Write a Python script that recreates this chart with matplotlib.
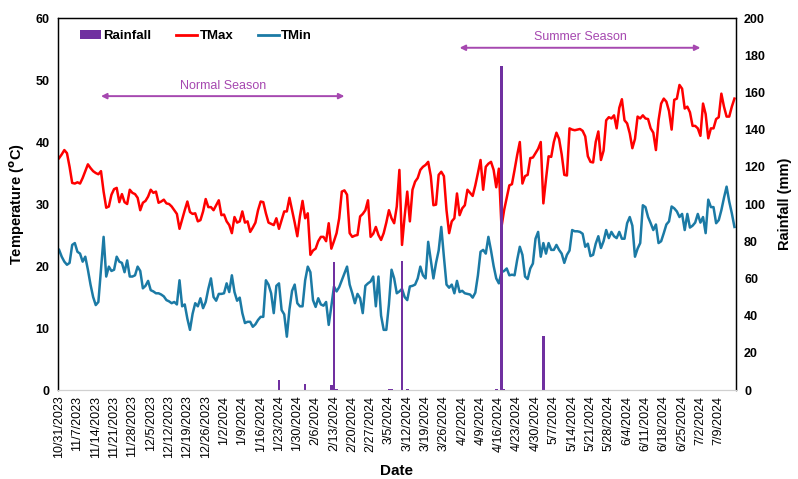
import numpy as np
import pandas as pd
import matplotlib
matplotlib.use("Agg")
import matplotlib.pyplot as plt
from matplotlib.patches import Patch
from matplotlib.lines import Line2D

plt.rcParams['font.family'] = ['Liberation Sans', 'DejaVu Sans']

start_date = "2023-10-31"

# daily max temperature (C)
tmax = [37.4, 38.0, 38.7, 38.2, 36.0, 33.4, 33.3, 33.5, 33.3, 34.2,
        35.3, 36.4, 35.8, 35.3, 35.0, 34.8, 35.3, 32.0, 29.4, 29.6,
        31.5, 32.4, 32.6, 30.3, 31.6, 30.3, 30.0, 32.3, 31.8, 31.6,
        31.0, 29.0, 30.2, 30.5, 31.2, 32.3, 31.8, 32.0, 30.2, 30.4,
        30.7, 30.1, 30.0, 29.6, 29.0, 28.4, 26.0, 27.5, 29.0, 30.4,
        28.7, 28.4, 28.5, 27.2, 27.4, 28.8, 30.8, 29.5, 29.5, 29.0,
        29.8, 30.6, 28.2, 28.3, 27.2, 26.6, 25.3, 27.9, 27.0, 27.2,
        28.8, 27.0, 27.2, 25.5, 26.2, 27.0, 29.0, 30.4, 30.3, 28.5,
        27.0, 26.8, 26.6, 27.7, 26.0, 27.4, 28.8, 28.8, 31.0, 29.0,
        27.0, 24.8, 28.0, 30.5, 27.7, 28.5, 21.8, 22.5, 22.8, 24.0,
        24.7, 24.7, 24.0, 26.9, 22.8, 24.0, 25.3, 27.7, 32.0, 32.2,
        31.5, 25.3, 24.7, 24.9, 25.0, 28.0, 28.4, 29.0, 30.6, 24.7,
        25.2, 26.3, 25.0, 24.2, 25.3, 27.0, 29.0, 27.7, 26.9, 29.6,
        35.5, 23.4, 28.0, 32.0, 27.2, 32.3, 33.6, 34.2, 35.5, 36.0,
        36.3, 36.8, 34.5, 29.8, 29.9, 34.7, 35.2, 34.5, 29.0, 25.3,
        27.2, 27.7, 31.7, 28.2, 29.3, 29.8, 32.3, 31.8, 31.3, 33.0,
        35.0, 37.1, 32.3, 36.0, 36.5, 36.8, 35.5, 32.7, 35.7, 26.3,
        29.0, 31.0, 33.0, 33.2, 35.5, 37.9, 40.0, 33.3, 34.5, 34.7,
        37.4, 37.5, 38.2, 38.9, 40.0, 30.1, 34.0, 37.7, 37.6, 40.0,
        41.5, 40.5, 38.0, 34.7, 34.6, 42.2, 42.0, 41.9, 42.0, 42.1,
        41.8, 40.9, 37.7, 36.8, 36.7, 40.0, 41.7, 37.1, 38.6, 43.5,
        44.0, 43.8, 44.3, 42.2, 45.5, 46.9, 43.5, 43.0, 41.4, 39.0,
        40.5, 44.1, 43.8, 44.3, 43.8, 43.7, 42.2, 41.5, 38.7, 43.5,
        46.2, 47.0, 46.5, 45.0, 42.0, 46.8, 47.0, 49.2, 48.6, 45.4,
        45.7, 44.8, 42.6, 42.6, 42.2, 41.0, 46.2, 44.5, 40.6, 42.2,
        42.2, 43.7, 44.0, 47.8, 45.7, 44.1, 44.1, 45.7, 47.0]

# daily min temperature (C)
tmin = [22.6, 21.5, 20.7, 20.2, 20.5, 23.4, 23.7, 22.3, 22.0, 20.7,
        21.5, 19.4, 17.0, 15.0, 13.7, 14.2, 19.5, 24.7, 18.3, 19.9,
        19.2, 19.4, 21.5, 20.7, 20.5, 19.0, 20.9, 18.3, 18.3, 18.5,
        19.9, 19.2, 16.4, 16.8, 17.6, 16.1, 15.9, 15.6, 15.6, 15.4,
        15.1, 14.5, 14.3, 14.0, 14.2, 13.8, 17.7, 13.5, 13.8, 11.5,
        9.7, 12.3, 14.0, 13.5, 14.8, 13.2, 14.2, 16.3, 18.0, 15.0,
        14.4, 15.5, 15.5, 15.6, 17.2, 15.8, 18.5, 15.8, 14.4, 14.9,
        12.4, 10.8, 11.0, 11.0, 10.2, 10.6, 11.3, 11.8, 11.8, 17.7,
        17.0, 15.6, 12.4, 16.8, 17.2, 12.9, 12.2, 8.6, 13.0, 16.0,
        17.0, 14.0, 13.5, 13.5, 17.7, 19.9, 19.0, 14.5, 13.4, 14.8,
        13.8, 13.6, 14.2, 10.5, 13.5, 16.7, 15.9, 16.6, 17.7, 18.8,
        19.9, 17.0, 15.6, 14.0, 15.5, 14.8, 12.4, 16.8, 17.2, 17.5,
        18.3, 13.5, 18.3, 12.0, 9.7, 9.7, 13.8, 19.4, 18.0, 15.6,
        15.9, 16.3, 15.0, 14.5, 16.7, 16.8, 17.0, 18.0, 19.9, 18.5,
        18.0, 23.9, 21.0, 18.0, 20.5, 22.5, 26.3, 21.5, 17.0, 16.5,
        17.0, 15.6, 17.6, 15.8, 16.0, 15.6, 15.5, 15.4, 14.9, 15.7,
        18.5, 22.3, 22.6, 22.0, 24.7, 22.5, 20.0, 18.0, 17.2, 19.0,
        19.2, 19.6, 18.5, 18.6, 18.5, 21.0, 23.1, 21.8, 18.3, 17.9,
        19.6, 20.4, 24.4, 25.5, 21.5, 23.7, 22.0, 23.7, 22.6, 22.6,
        23.4, 22.6, 22.0, 20.5, 21.8, 22.5, 25.8, 25.6, 25.6, 25.5,
        25.2, 23.1, 23.6, 21.6, 21.8, 23.6, 24.8, 22.9, 24.0, 25.8,
        24.5, 25.5, 24.8, 24.5, 25.5, 24.4, 24.4, 26.9, 27.9, 26.5,
        21.5, 22.8, 23.7, 29.8, 29.5, 27.9, 26.9, 25.8, 26.7, 23.7,
        24.0, 25.3, 26.7, 27.2, 29.6, 29.3, 28.8, 27.9, 28.4, 25.8,
        28.4, 26.2, 26.5, 27.0, 28.4, 27.0, 27.9, 25.3, 30.7, 29.5,
        29.5, 26.9, 27.4, 29.0, 31.0, 32.8, 30.4, 28.5, 26.3]

# rainfall (mm), only days with rain
rain_dates = ["1/23/2024", "2/2/2024", "2/12/2024", "2/13/2024", "2/14/2024",
              "3/5/2024", "3/6/2024", "3/10/2024", "3/12/2024", "4/15/2024",
              "4/17/2024", "4/18/2024", "5/3/2024"]
rain_mm = [5.5, 3.2, 2.5, 69.0, 0.6, 0.6, 0.4, 69.5, 0.5, 0.5, 174.0, 0.7, 29.0]

tick_labels = ["10/31/2023", "11/7/2023", "11/14/2023", "11/21/2023", "11/28/2023",
               "12/5/2023", "12/12/2023", "12/19/2023", "12/26/2023", "1/2/2024",
               "1/9/2024", "1/16/2024", "1/23/2024", "1/30/2024", "2/6/2024",
               "2/13/2024", "2/20/2024", "2/27/2024", "3/5/2024", "3/12/2024",
               "3/19/2024", "3/26/2024", "4/2/2024", "4/9/2024", "4/16/2024",
               "4/23/2024", "4/30/2024", "5/7/2024", "5/14/2024", "5/21/2024",
               "5/28/2024", "6/4/2024", "6/11/2024", "6/18/2024", "6/25/2024",
               "7/2/2024", "7/9/2024"]

seasons = ["Normal Season", "Summer Season"]
season_start = ["11/16/2023", "4/1/2024"]
season_end = ["2/17/2024", "7/2/2024"]
season_level = [47.4, 55.2]

dates = pd.date_range(start_date, periods=len(tmax), freq="D")
fmt = "%m/%d/%Y"

fig = plt.figure(figsize=(7.98, 4.79), dpi=100)
ax = fig.add_axes([0.0727, 0.1858, 0.8493, 0.7766])
ax2 = ax.twinx()

red = "#FF0000"
blue = "#1B7AA5"
purple = "#7030A0"
anno = "#A648B0"

ax.plot(dates, tmax, color=red, lw=1.8)
ax.plot(dates, tmin, color=blue, lw=1.8)
ax2.bar(pd.to_datetime(rain_dates, format=fmt), rain_mm, width=1.0, color=purple)

ax.set_ylim(0, 60)
ax.set_yticks(np.arange(0, 61, 10))
ax2.set_ylim(0, 200)
ax2.set_yticks(np.arange(0, 201, 20))
ax.set_xlim(dates[0] - pd.Timedelta(hours=10), dates[-1] + pd.Timedelta(hours=12))

ax.set_xticks(pd.to_datetime(tick_labels, format=fmt))
ax.set_xticklabels(tick_labels, rotation=90, fontsize=9)

for a in (ax, ax2):
    a.tick_params(length=0, pad=6)
    for lab in a.get_yticklabels():
        lab.set_fontweight("bold")
        lab.set_fontsize(9)
    for s in ("top", "left", "right"):
        a.spines[s].set_color("black")
        a.spines[s].set_linewidth(0.9)
    a.spines["bottom"].set_color("#D0D0D0")
ax.tick_params(axis="x", pad=4)

ax.set_ylabel(r"Temperature ($\mathbf{^o}$C)", fontsize=10.5, fontweight="bold", labelpad=6)
ax2.set_ylabel("Rainfall (mm)", fontsize=10.5, fontweight="bold", rotation=90, labelpad=9)
ax.set_xlabel("Date", fontsize=11, fontweight="bold", labelpad=4)

for name, s, e, lvl in zip(seasons, season_start, season_end, season_level):
    d0 = pd.to_datetime(s, format=fmt)
    d1 = pd.to_datetime(e, format=fmt)
    ax.annotate("", xy=(d1, lvl), xytext=(d0, lvl),
                arrowprops=dict(arrowstyle="<|-|>", color=anno, lw=1.4,
                                mutation_scale=8, shrinkA=0, shrinkB=0))
    ax.text(d0 + (d1 - d0) / 2, lvl + 1.7, name, color=anno, fontsize=9,
            ha="center", va="center")

handles = [Patch(facecolor=purple), Line2D([], [], color=red, lw=2),
           Line2D([], [], color=blue, lw=2)]
ax2.legend(handles, ["Rainfall", "TMax", "TMin"], loc="upper left",
           bbox_to_anchor=(0.015, 1.0), ncol=3, frameon=False,
           prop={"weight": "bold", "size": 9.5}, handlelength=1.6,
           handletextpad=0.15, columnspacing=1.9)

fig.savefig("out.png", dpi=100)
